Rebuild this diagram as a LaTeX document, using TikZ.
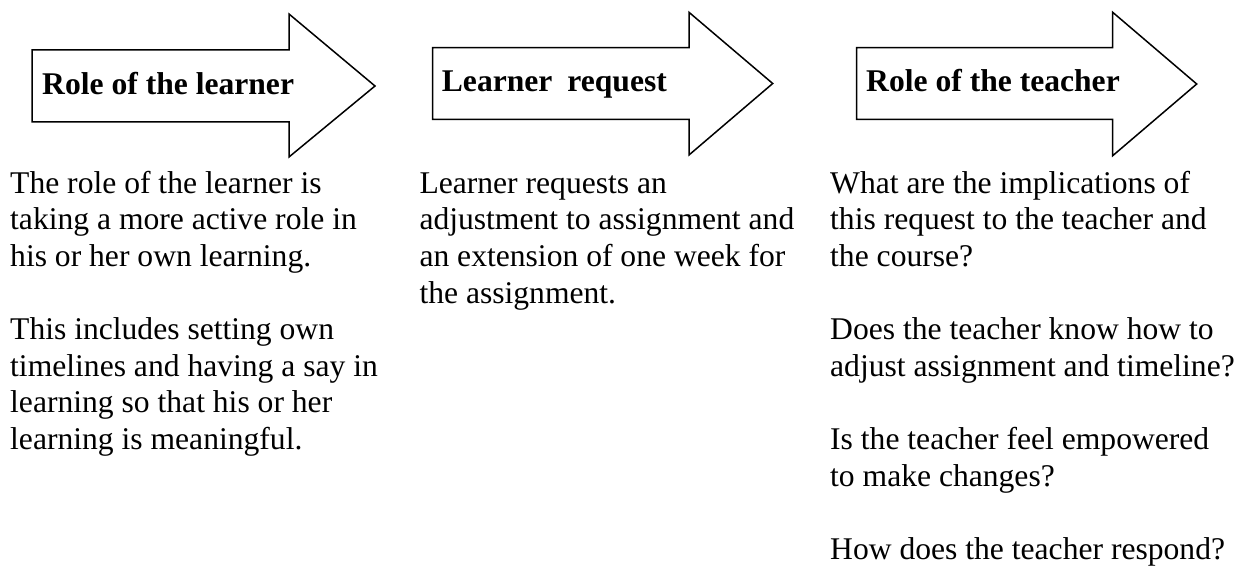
\documentclass[tikz,border=0pt]{standalone}
\usepackage{fontspec}
\setmainfont{Liberation Serif}
% block arrow: left, top, bottom, shaft end, head top, head bottom, tip x, tip y
\newcommand\blockarrow[9]{%
  \draw[arrowbox] (#2,#3) -- (#5,#3) -- (#5,#6) -- (#8,#9) -- (#5,#7)
    -- (#5,#4) -- (#2,#4) -- cycle;
  \coordinate (#1) at (#8,#9);}
\begin{document}
\begin{tikzpicture}[x=1pt,y=-1pt,
  arrowbox/.style={draw=black,line width=1.5pt,fill=white,line join=miter},
  title/.style={font=\fontsize{31.6}{36.6}\selectfont\bfseries,inner sep=0pt,anchor=base west},
  body/.style={font=\fontsize{31.6}{36.6}\selectfont,inner sep=0pt,
    anchor=base west,text width=420pt,align=flush left}]
\fill[white] (0,0) rectangle (1248,567);
\useasboundingbox (0,0) rectangle (1248,567);

% the three block arrows with their headings
\blockarrow{tipA}{32}{50}{122}{289}{14}{157}{375}{86}
\blockarrow{tipB}{432.7}{47.7}{119.3}{689}{12.3}{155}{772.7}{83.5}
\blockarrow{tipC}{856.7}{47.7}{119.3}{1112.7}{12.3}{155.7}{1196.7}{84}

\node[title] (learner) at (42,94.3) {Role of the learner};
\node[title] (request) at (441.7,91.7) {Learner\hspace{7pt} request};
\node[title] (teacher) at (866,91.7) {Role of the teacher};

% descriptive text under each arrow
\node[body] (learnertext) at (10,193.3) {The role of the learner is\\
taking a more active role in\\
his or her own learning.\\[36.6pt]
This includes setting own\\
timelines and having a say in\\
learning so that his or her\\
learning is meaningful.};

\node[body] (requesttext) at (419.3,193.3) {Learner requests an\\
adjustment to assignment and\\
an extension of one week for\\
the assignment.};

\node[body] (teachertext) at (830,193.3) {What are the implications of\\
this request to the teacher and\\
the course?\\[36.6pt]
Does the teacher know how to\\
adjust assignment and timeline?\\[36.6pt]
Is the teacher feel empowered\\
to make changes?\\[36.6pt]
How does the teacher respond?};
\end{tikzpicture}
\end{document}
